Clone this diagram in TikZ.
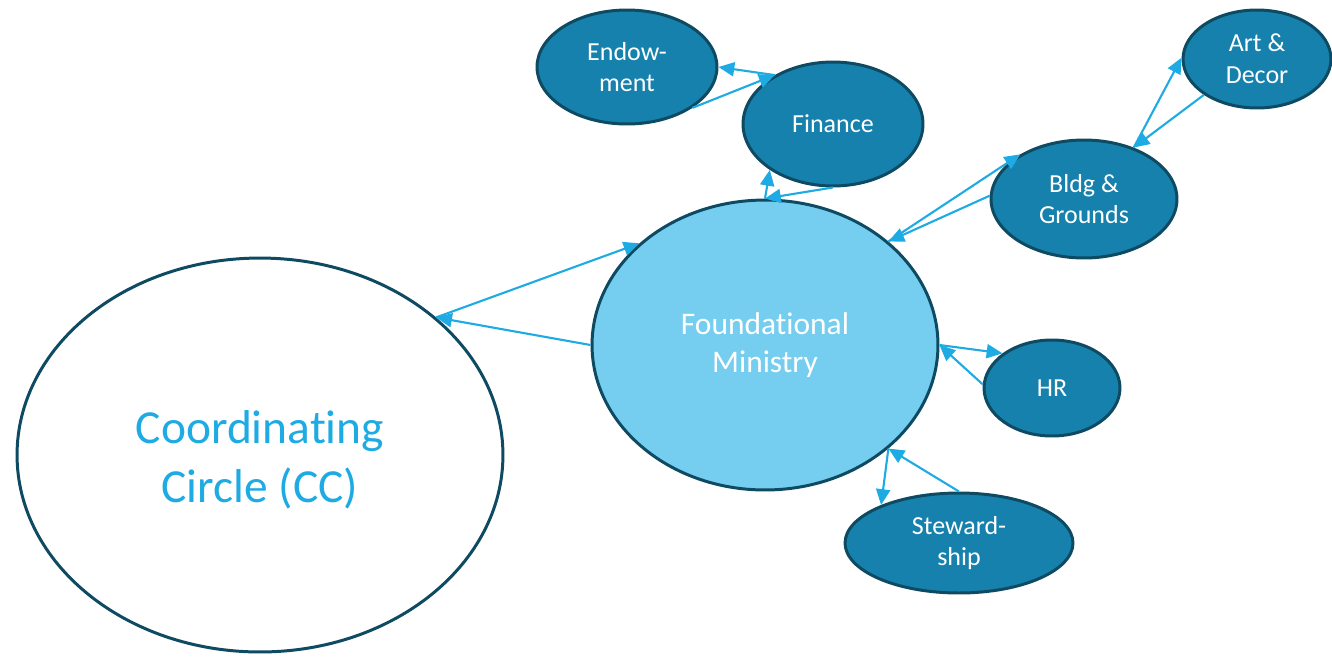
\documentclass[tikz,border=0pt]{standalone}
\usepackage{fontspec}
\setmainfont{Carlito}[Ligatures=NoCommon]
\usetikzlibrary{shapes.geometric,arrows.meta}
\definecolor{ringcol}{HTML}{0E4A62}
\definecolor{teamcol}{HTML}{1681AC}
\definecolor{ministrycol}{HTML}{75CEEF}
\definecolor{linkcol}{HTML}{1EABE3}
\tikzset{
  team/.style={ellipse, draw=ringcol, line width=1.7pt, fill=teamcol, text=white,
    font=\fontsize{14.8}{18}\selectfont, align=center, inner sep=0pt},
  link/.style={-{Triangle[length=9pt,width=8pt]}, linkcol, line width=1.2pt}
}
\begin{document}
\begin{tikzpicture}[x=0.02cm,y=-0.02cm]
  \useasboundingbox (0,0) rectangle (1332,657);
  % circles
  \node[ellipse, draw=ringcol, line width=1.7pt, fill=white, minimum width=9.72cm, minimum height=7.88cm,
        label={[text=linkcol, font=\fontsize{27}{33.5}\selectfont, align=center, yshift=-0.1cm]center:Coordinating\\Circle (CC)}] (cc) at (260,455) {};
  \node[ellipse, draw=ringcol, line width=1.7pt, fill=ministrycol, minimum width=6.92cm, minimum height=5.8cm,
        text=white, font=\fontsize{17.9}{21.5}\selectfont, align=center] (fm) at (765,345) {Foundational\\Ministry};
  \node[team, minimum width=3.6cm, minimum height=2.48cm] (fin) at (833,124) {Finance};
  \node[team, minimum width=3.6cm, minimum height=2.28cm] (endow) at (627,67) {Endow-\\ment};
  \node[team, minimum width=3.72cm, minimum height=2.36cm] (bldg) at (1084,199) {Bldg \&\\Grounds};
  \node[team, minimum width=2.96cm, minimum height=1.96cm] (art) at (1257,59) {Art \&\\Decor};
  \node[team, minimum width=2.72cm, minimum height=1.92cm] (hr) at (1052,388) {HR};
  \node[team, minimum width=4.56cm, minimum height=2.0cm] (stew) at (959,543) {Steward-\\ship};
  % links
  \draw[link] (cc.38) -- (fm.141);
  \draw[link] (fm.180) -- (cc.38);
  \draw[link] (fin.140) -- (endow.0);
  \draw[link] (endow.-32) -- (fin.140);
  \draw[link] (fm.90) -- (fin.-144);
  \draw[link] (fin.-90) -- (fm.90);
  \draw[link] (fm.40) -- (bldg.145);
  \draw[link] (bldg.178) -- (fm.40);
  \draw[link] (bldg.46) -- (art.179);
  \draw[link] (art.214) -- (bldg.46);
  \draw[link] (fm.0) -- (hr.145);
  \draw[link] (hr.177) -- (fm.0);
  \draw[link] (fm.-40) -- (stew.154);
  \draw[link] (stew.90) -- (fm.-40);
\end{tikzpicture}
\end{document}
